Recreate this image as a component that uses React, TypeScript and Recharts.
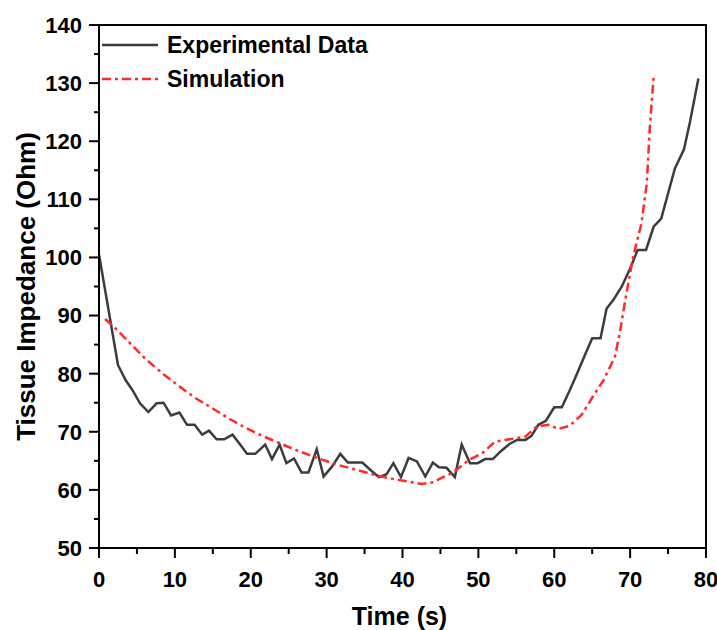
import React from 'react';
import { LineChart, Line, XAxis, YAxis, Legend, Label, ReferenceArea } from 'recharts';

const expTime = [0, 2.5, 3.5, 4.4, 5.4, 6.5, 7.6, 8.5, 9.5, 10.6, 11.6, 12.6, 13.6, 14.5, 15.5, 16.5, 17.6, 18.6, 19.5, 20.6, 21.9, 22.8, 23.8, 24.7, 25.7, 26.7, 27.6, 28.7, 29.6, 30.7, 31.8, 32.8, 33.8, 34.7, 35.9, 36.9, 37.9, 38.8, 39.8, 40.8, 41.9, 43.0, 44.0, 44.8, 45.8, 46.9, 47.8, 48.9, 49.9, 50.9, 51.9, 53.0, 54.1, 55.1, 56.2, 57.0, 57.9, 58.9, 60.0, 61.0, 62.0, 63.0, 64.0, 65.0, 66.1, 66.9, 67.8, 68.9, 70.0, 71.0, 72.1, 73.1, 74.1, 75.0, 75.9, 77.1, 77.9, 79.0];
const expImpedance = [100.5, 81.5, 78.9, 77.2, 74.9, 73.4, 74.9, 75.0, 72.8, 73.3, 71.2, 71.2, 69.5, 70.2, 68.7, 68.7, 69.5, 67.8, 66.2, 66.2, 67.8, 65.3, 67.8, 64.6, 65.4, 63.0, 63.0, 67.0, 62.3, 64.0, 66.2, 64.7, 64.7, 64.7, 63.3, 62.2, 62.7, 64.6, 62.2, 65.5, 64.9, 62.3, 64.7, 63.9, 63.8, 62.2, 67.8, 64.6, 64.6, 65.3, 65.3, 66.7, 67.9, 68.6, 68.6, 69.3, 71.2, 71.9, 74.2, 74.2, 77.0, 80.0, 83.1, 86.1, 86.1, 91.2, 92.7, 95.0, 98.1, 101.3, 101.3, 105.3, 106.7, 111.0, 115.3, 118.6, 123.4, 130.8];

const simTime = [0.8, 2, 3.9, 6, 8.3, 10.5, 12.7, 15, 17.1, 19.3, 21.5, 23.5, 25.5, 27.5, 29.4, 31.5, 33.8, 36, 38.2, 40.5, 42.5, 44, 45.2, 46.7, 48.7, 50.5, 52.2, 53.5, 55, 56.2, 57.7, 59.2, 60.6, 62.0, 63.6, 65.2, 66.5, 68.0, 68.7, 69.4, 70.4, 71.5, 72.2, 72.6, 73.1];
const simImpedance = [89.4, 88.0, 85.5, 82.7, 80.1, 77.9, 75.8, 74.0, 72.3, 70.7, 69.3, 68.2, 67.1, 66.1, 65.2, 64.3, 63.5, 62.7, 62.0, 61.5, 61.0, 61.3, 62.1, 63.0, 65.1, 66.3, 68.3, 68.6, 68.9, 69.2, 70.9, 71.2, 70.5, 71.0, 72.9, 76.3, 78.9, 82.9, 87.5, 93.0, 100.1, 105.9, 112.8, 122.5, 131.1];

const xTicks = [0, 5, 10, 15, 20, 25, 30, 35, 40, 45, 50, 55, 60, 65, 70, 75, 80];
const yTicks = [50, 55, 60, 65, 70, 75, 80, 85, 90, 95, 100, 105, 110, 115, 120, 125, 130, 135, 140];

const expData = expTime.map((t, i) => ({ t, v: expImpedance[i] }));
const simData = simTime.map((t, i) => ({ t, v: simImpedance[i] }));

const FONT = '"Liberation Sans", Arial, Helvetica, sans-serif';

const YTick = (props: any) => {
  const { x, y, payload } = props;
  const major = payload.value % 10 === 0;
  return (
    <g>
      <line x1={x} x2={x - (major ? 10 : 5)} y1={y} y2={y} stroke="#000" strokeWidth={2} />
      {major && (
        <text x={x - 17} y={y} dy="0.36em" textAnchor="end" fontFamily={FONT} fontWeight="bold" fontSize={22} fill="#000">
          {payload.value}
        </text>
      )}
    </g>
  );
};

const XTick = (props: any) => {
  const { x, y, payload } = props;
  const major = payload.value % 10 === 0;
  return (
    <g>
      <line x1={x} x2={x} y1={y} y2={y + (major ? 10 : 6)} stroke="#000" strokeWidth={2} />
      {major && (
        <text x={x} y={y + 39} textAnchor="middle" fontFamily={FONT} fontWeight="bold" fontSize={22} fill="#000">
          {payload.value}
        </text>
      )}
    </g>
  );
};

const renderLegend = (props: any) => {
  const { payload } = props;
  return (
    <div style={{ display: 'flex', flexDirection: 'column' }}>
      {(payload || []).map((entry: any, i: number) => (
        <div key={i} style={{ display: 'flex', alignItems: 'center', height: 34 }}>
          <svg width={56} height={10} style={{ marginRight: 9 }}>
            <line
              x1={0}
              x2={56}
              y1={5}
              y2={5}
              stroke={entry.color}
              strokeWidth={2.5}
              strokeDasharray={entry.payload?.strokeDasharray}
            />
          </svg>
          <span style={{ fontFamily: FONT, fontWeight: 'bold', fontSize: 23, color: '#000', lineHeight: '34px' }}>
            {entry.value}
          </span>
        </div>
      ))}
    </div>
  );
};

export default function App() {
  return (
    <div style={{ position: 'absolute', left: 0, top: 0, background: '#fff' }}>
      <LineChart width={717} height={630} margin={{ top: 25, right: 11, bottom: 0, left: 0 }}>
        <XAxis
          type="number"
          dataKey="t"
          domain={[0, 80]}
          ticks={xTicks}
          interval={0}
          allowDataOverflow
          height={82}
          tickSize={0}
          tickMargin={0}
          tick={<XTick />}
          axisLine={{ stroke: '#000', strokeWidth: 2 }}
        >
          <Label
            content={(p: any) => {
              const vb = p.viewBox;
              return (
                <text x={vb.x + vb.width / 2 - 3} y={vb.y + 77} textAnchor="middle" fontFamily={FONT} fontWeight="bold" fontSize={25} fill="#000">
                  Time (s)
                </text>
              );
            }}
          />
        </XAxis>
        <YAxis
          type="number"
          domain={[50, 140]}
          ticks={yTicks}
          interval={0}
          allowDataOverflow
          width={99}
          tickSize={0}
          tickMargin={0}
          tick={<YTick />}
          axisLine={{ stroke: '#000', strokeWidth: 2 }}
        >
          <Label
            content={(p: any) => {
              const vb = p.viewBox;
              const cy = vb.y + vb.height / 2;
              return (
                <text x={35} y={cy} transform={`rotate(-90, 35, ${cy})`} textAnchor="middle" fontFamily={FONT} fontWeight="bold" fontSize={26} fill="#000">
                  Tissue Impedance (Ohm)
                </text>
              );
            }}
          />
        </YAxis>
        <ReferenceArea x1={0} x2={80} y1={50} y2={140} fill="none" stroke="#000" strokeWidth={2} ifOverflow="visible" />
        <Legend
          layout="vertical"
          align="center"
          verticalAlign="middle"
          content={renderLegend}
          wrapperStyle={{ position: 'absolute', left: 102, top: 28, width: 300, height: 70 }}
        />
        <Line
          data={expData}
          dataKey="v"
          name="Experimental Data"
          type="linear"
          stroke="#3c3c3c"
          strokeWidth={2.5}
          dot={false}
          isAnimationActive={false}
        />
        <Line
          data={simData}
          dataKey="v"
          name="Simulation"
          type="linear"
          stroke="#ff2b2b"
          strokeWidth={2.5}
          strokeDasharray="9 4 3 4"
          dot={false}
          isAnimationActive={false}
        />
      </LineChart>
    </div>
  );
}
